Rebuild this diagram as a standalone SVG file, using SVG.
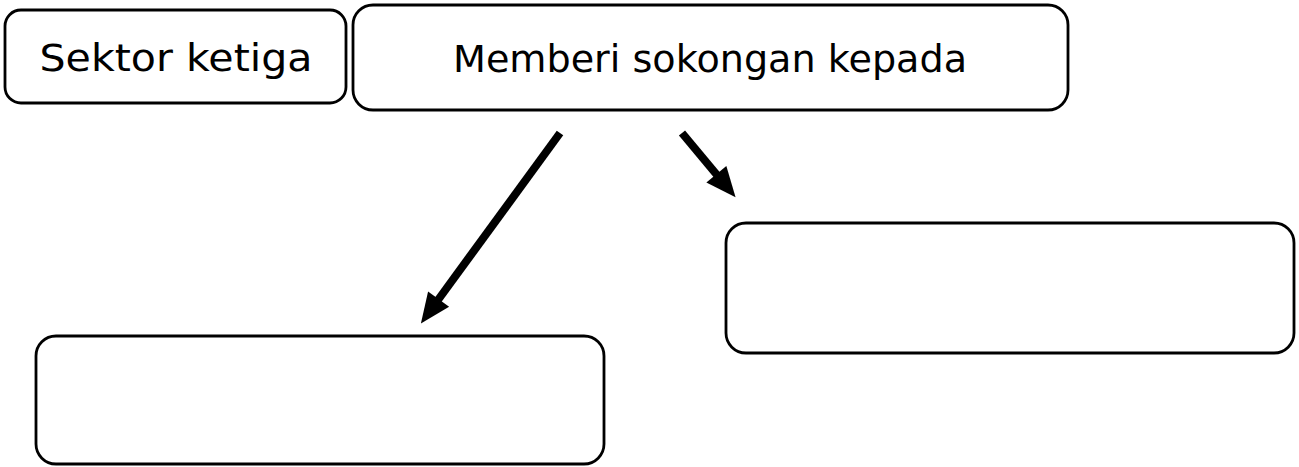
<svg xmlns="http://www.w3.org/2000/svg" width="1299" height="467" viewBox="0 0 1299 467">
  <style>
    .box { fill: #ffffff; stroke: #000000; stroke-width: 2.8; }
    .lbl { font-family: "Comic Sans MS", "DejaVu Sans", sans-serif; font-size: 37px; fill: #000000; text-anchor: middle; }
    .conn { stroke: #000000; stroke-width: 8; fill: none; marker-end: url(#head); }
  </style>
  <defs>
    <marker id="head" markerUnits="userSpaceOnUse" markerWidth="40" markerHeight="40" refX="0" refY="0" orient="auto" overflow="visible">
      <path d="M-1,-13 L29,0 L-1,13 z" fill="#000000"/>
    </marker>
  </defs>
  <rect width="1299" height="467" fill="#ffffff"/>
  <g id="node-sektor">
    <rect class="box" x="5" y="10" width="341" height="93" rx="16"/>
    <text class="lbl" x="176" y="71" textLength="273" lengthAdjust="spacingAndGlyphs">Sektor ketiga</text>
  </g>
  <g id="node-memberi">
    <rect class="box" x="353" y="5" width="715" height="105" rx="20"/>
    <text class="lbl" x="710" y="72" textLength="514" lengthAdjust="spacingAndGlyphs">Memberi sokongan kepada</text>
  </g>
  <g id="node-left">
    <rect class="box" x="36" y="336" width="568" height="128" rx="20"/>
  </g>
  <g id="node-right">
    <rect class="box" x="726" y="223" width="568" height="130" rx="20"/>
  </g>
  <g id="connectors">
    <line class="conn" x1="560" y1="133" x2="438" y2="300"/>
    <line class="conn" x1="682" y1="133" x2="717" y2="175"/>
  </g>
</svg>
